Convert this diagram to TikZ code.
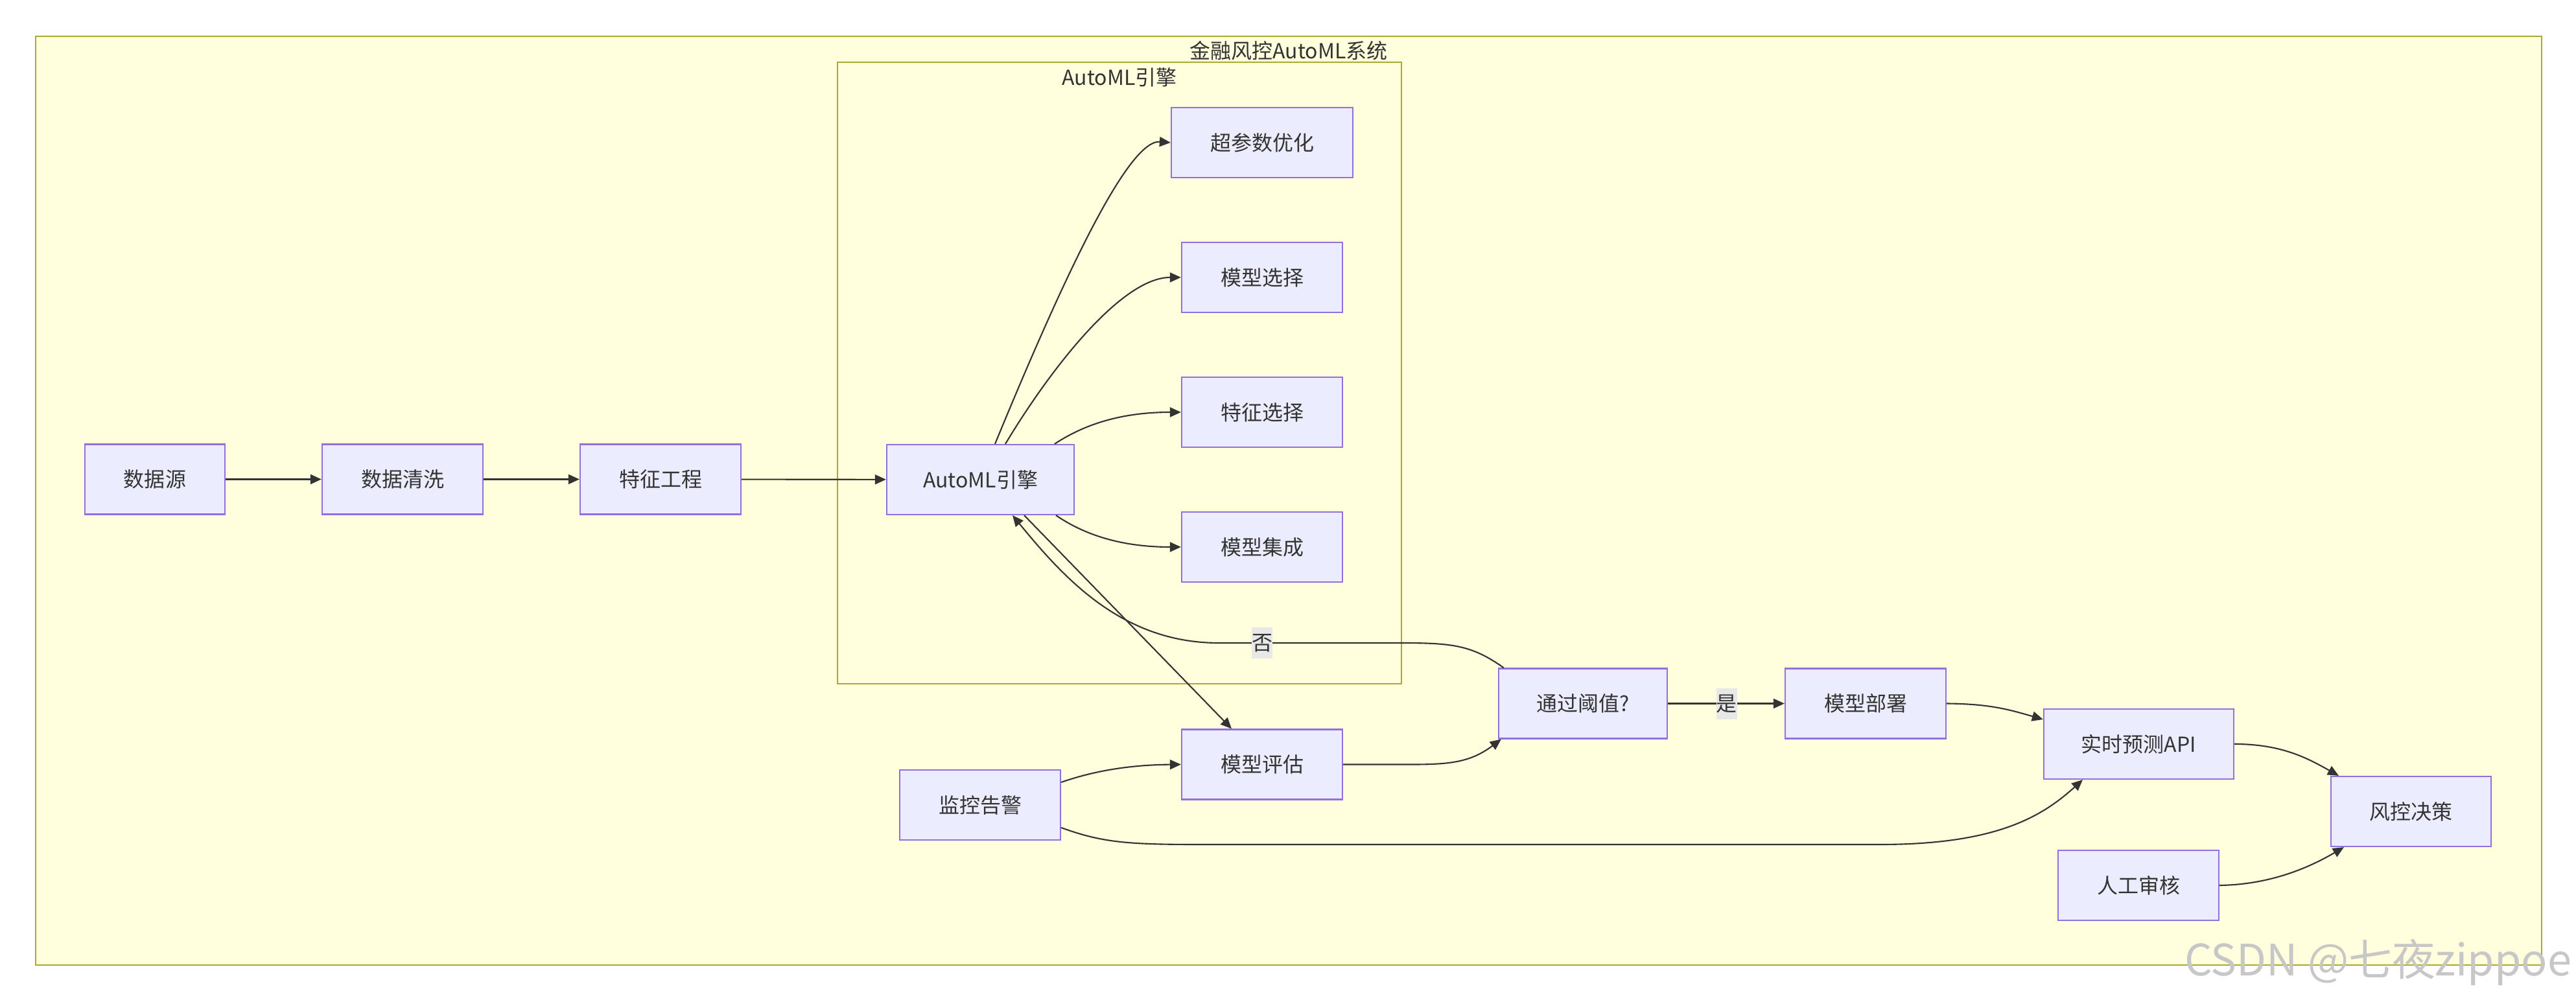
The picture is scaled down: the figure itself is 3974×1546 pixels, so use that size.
\documentclass[tikz,border=0pt]{standalone}
\usepackage{fontspec}
\setmainfont{Noto Sans CJK SC}
\usetikzlibrary{arrows.meta,calc}
\definecolor{nodefill}{HTML}{ECECFF}
\definecolor{nodedraw}{HTML}{9370DB}
\definecolor{clfill}{HTML}{FFFFDE}
\definecolor{cldraw}{HTML}{AAAA33}
\definecolor{txt}{HTML}{333333}
\definecolor{lblbg}{HTML}{E8E8E8}
\begin{document}
\begin{tikzpicture}[x=0.01cm,y=-0.01cm,
  txtfont/.style={font=\fontsize{9.1}{11}\selectfont},
  box/.style={draw=nodedraw,fill=nodefill,line width=0.6pt,minimum height=1.08cm,inner sep=0pt,text=txt,txtfont},
  cluster/.style={draw=cldraw,fill=clfill,line width=0.6pt,inner sep=0pt},
  cltitle/.style={text=txt,inner sep=0pt,txtfont},
  conn/.style={draw=txt,line width=0.6pt,-{Triangle[length=0.17cm,width=0.15cm]}},
  lbl/.style={fill=lblbg,text=txt,inner sep=0pt,minimum width=0.31cm,minimum height=0.47cm,txtfont}]
\useasboundingbox[fill=white] (0,0) rectangle (3974,1546);
% clusters
\node[cluster,minimum width=38.64cm,minimum height=14.33cm] (outer) at (1988,772.5) {};
\node[cltitle] (outert) at (1988,78) {金融风控AutoML系统};
\node[cluster,minimum width=8.70cm,minimum height=9.59cm] (inner) at (1727,575.5) {};
\node[cltitle] (innert) at (1727,119) {AutoML引擎};
% nodes
\node[box,minimum width=2.16cm] (src) at (239,739.5) {数据源};
\node[box,minimum width=2.48cm] (clean) at (621,739.5) {数据清洗};
\node[box,minimum width=2.48cm] (feat) at (1019,739.5) {特征工程};
\node[box,minimum width=2.89cm] (automl) at (1512.5,740) {AutoML引擎};
\node[box,minimum width=2.80cm] (hpo) at (1947,220) {超参数优化};
\node[box,minimum width=2.48cm] (msel) at (1947,428) {模型选择};
\node[box,minimum width=2.48cm] (fsel) at (1947,636) {特征选择};
\node[box,minimum width=2.48cm] (ens) at (1947,844) {模型集成};
\node[box,minimum width=2.48cm] (eval) at (1947,1179.5) {模型评估};
\node[box,minimum width=2.60cm] (thr) at (2442,1085.5) {通过阈值?};
\node[box,minimum width=2.48cm] (mon) at (1512,1242) {监控告警};
\node[box,minimum width=2.48cm] (dep) at (2878,1085.5) {模型部署};
\node[box,minimum width=2.93cm] (api) at (3299.5,1148) {实时预测API};
\node[box,minimum width=2.47cm] (dec) at (3719.5,1252) {风控决策};
\node[box,minimum width=2.48cm] (man) at (3299,1366) {人工审核};
% edges
\draw[conn] (src) -- (clean);
\draw[conn] (clean) -- (feat);
\draw[conn] (feat) -- (automl);
\draw[conn] ($(automl.north)+(22.5,0)$) .. controls (1640,430) and (1740,215) .. (hpo.west);
\draw[conn] ($(automl.north)+(38.5,0)$) .. controls (1620,570) and (1730,428) .. (msel.west);
\draw[conn] ($(automl.north)+(114.5,0)$) .. controls (1680,650) and (1740,636) .. (fsel.west);
\draw[conn] ($(automl.south)+(116.5,0)$) .. controls (1680,830) and (1740,844) .. (ens.west);
\draw[conn] ($(automl.south)+(67.5,0)$) -- ($(eval.north)+(-47,0)$);
\draw[conn] ($(thr.north west)+(9,0)$) .. controls (2270,995) and (2240,992) .. (2160,992)
  -- (1880,992) .. controls (1730,992) and (1640,890) .. ($(automl.south)+(49.5,0)$);
\node[lbl] (no) at (1947,992) {否};
\draw[conn] ($(mon.east)+(0,-35)$) .. controls (1700,1185) and (1760,1180) .. (eval.west);
\draw[conn] (eval.east) -- (2180,1179.5) .. controls (2240,1179.5) and (2270,1175) .. ($(thr.south west)+(5,0)$);
\draw[conn] ($(mon.east)+(0,35)$) .. controls (1700,1300) and (1740,1303) .. (1850,1303)
  -- (2900,1303) .. controls (3080,1303) and (3150,1260) .. ($(api.south)+(-86.5,0)$);
\draw[conn] (thr.east) -- (dep.west);
\node[lbl] (yes) at (2663.5,1086) {是};
\draw[conn] (dep.east) .. controls (3070,1086) and (3100,1095) .. ($(api.west)+(0,-38)$);
\draw[conn] (api.east) .. controls (3520,1148) and (3560,1170) .. ($(dec.north)+(-111.5,0)$);
\draw[conn] (man.east) .. controls (3500,1365) and (3560,1340) .. ($(dec.south)+(-103.5,0)$);
% watermark
\node[anchor=base east,text=black!22,inner sep=0pt,font=\fontsize{19}{20}\selectfont] (wm) at (3968,1505) {CSDN @七夜zippoe};
\end{tikzpicture}
\end{document}
